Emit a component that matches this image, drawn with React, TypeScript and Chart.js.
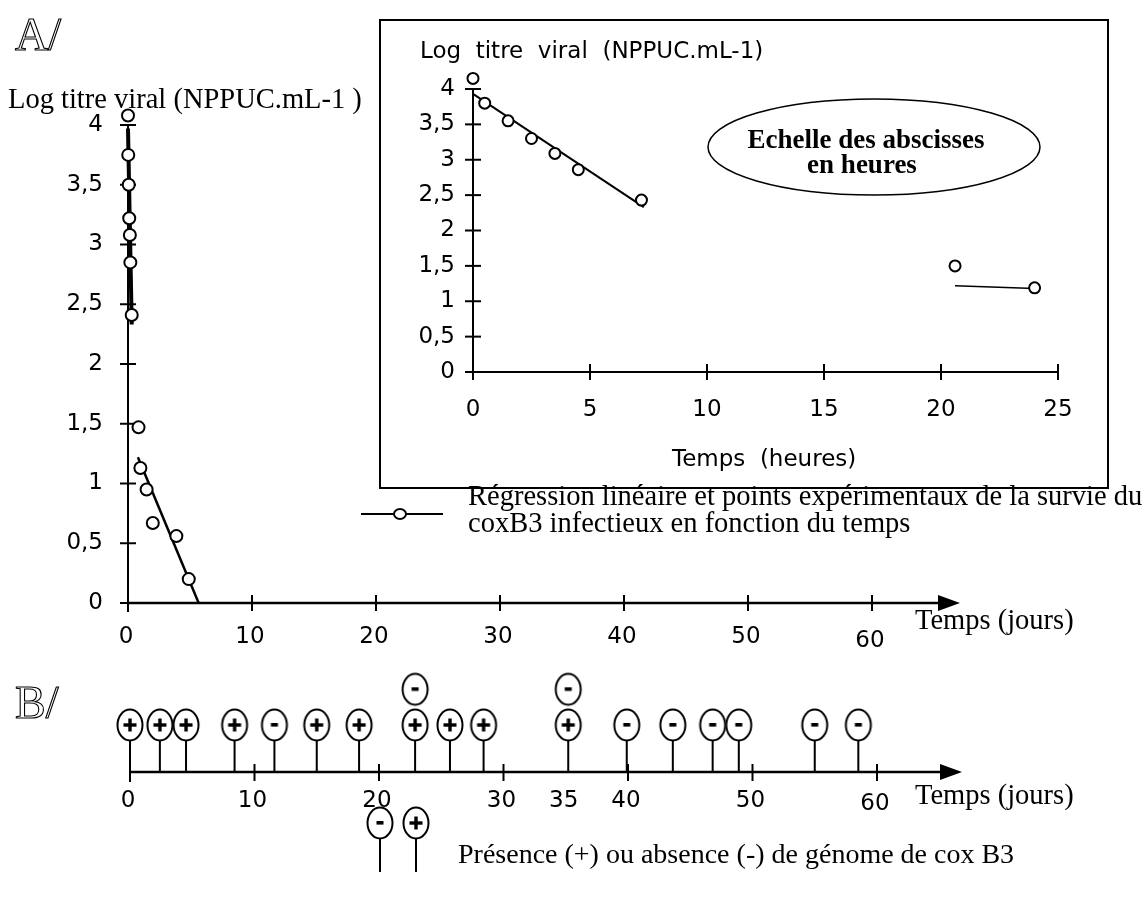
import React, { useEffect, useRef } from 'react';
import { Chart, registerables } from 'chart.js';
Chart.register(...registerables);

const W = 1147;
const H = 900;
const SANS = '"DejaVu Sans", Verdana, sans-serif';
const SERIF = '"Liberation Serif", "Times New Roman", serif';

// ---------- Panel A (days) ----------
const mainDays = [0, 0.02, 0.06, 0.1, 0.15, 0.19, 0.3, 0.85, 1.0, 1.5, 2.0, 3.9, 4.9];
const mainLog = [4.08, 3.75, 3.5, 3.22, 3.08, 2.85, 2.41, 1.47, 1.13, 0.95, 0.67, 0.56, 0.2];
const mainFitEarlyDays = [0, 0.3];
const mainFitEarlyLog = [3.97, 2.33];
const mainFitLateDays = [0.8, 5.7];
const mainFitLateLog = [1.22, 0];
const mainYTicks = [0, 0.5, 1, 1.5, 2, 2.5, 3, 3.5, 4];
const mainYTickLabels = ['0', '0,5', '1', '1,5', '2', '2,5', '3', '3,5', '4'];
const mainXTicks = [0, 10, 20, 30, 40, 50, 60];

// ---------- Inset (hours) ----------
const insetHours = [0, 0.5, 1.5, 2.5, 3.5, 4.5, 7.2, 20.6, 24.0];
const insetLog = [4.15, 3.8, 3.55, 3.3, 3.09, 2.86, 2.43, 1.5, 1.19];
const insetFitEarlyHours = [0, 7.3];
const insetFitEarlyLog = [3.93, 2.33];
const insetFitLateHours = [20.6, 24.0];
const insetFitLateLog = [1.22, 1.18];
const insetYTicks = [0, 0.5, 1, 1.5, 2, 2.5, 3, 3.5, 4];
const insetYTickLabels = ['0', '0,5', '1', '1,5', '2', '2,5', '3', '3,5', '4'];
const insetXTicks = [0, 5, 10, 15, 20, 25];

// ---------- Panel B (presence / absence of genome) ----------
const bDays = [0, 2.4, 4.5, 8.4, 11.6, 15, 18.4, 22.9, 25.7, 28.4, 35.2, 39.9, 43.6, 46.8, 48.9, 55, 58.5];
const bResult = ['+', '+', '+', '+', '-', '+', '+', '+', '+', '+', '+', '-', '-', '-', '-', '-', '-'];
const bRepeatDays = [22.9, 35.2];
const bRepeatResult = ['-', '-'];
const bXTicks = [10, 20, 30, 40, 50, 60];
const bXLabels = [0, 10, 20, 30, 35, 40, 50, 60];

function makeMarker(sign: string): HTMLCanvasElement {
  const c = document.createElement('canvas');
  c.width = 30;
  c.height = 36;
  const g = c.getContext('2d')!;
  g.lineWidth = 2;
  g.strokeStyle = '#000';
  g.fillStyle = '#fff';
  g.beginPath();
  g.ellipse(15, 18, 12.5, 15.5, 0, 0, Math.PI * 2);
  g.fill();
  g.stroke();
  g.fillStyle = '#000';
  if (sign === '+') {
    g.fillRect(8.5, 16.3, 13, 3.4);
    g.fillRect(13.3, 11.5, 3.4, 13);
  } else {
    g.fillRect(11.5, 16, 7, 3.6);
  }
  return c;
}

function txt(ctx: CanvasRenderingContext2D, s: string, x: number, y: number, font: string, align: CanvasTextAlign = 'left') {
  ctx.font = font;
  ctx.textAlign = align;
  ctx.textBaseline = 'middle';
  ctx.fillStyle = '#000';
  ctx.fillText(s, x, y);
}

function line(ctx: CanvasRenderingContext2D, x1: number, y1: number, x2: number, y2: number, w = 2) {
  ctx.beginPath();
  ctx.lineWidth = w;
  ctx.strokeStyle = '#000';
  ctx.moveTo(x1, y1);
  ctx.lineTo(x2, y2);
  ctx.stroke();
}

function arrow(ctx: CanvasRenderingContext2D, x: number, y: number) {
  ctx.beginPath();
  ctx.fillStyle = '#000';
  ctx.moveTo(x, y);
  ctx.lineTo(x - 22, y - 8);
  ctx.lineTo(x - 22, y + 8);
  ctx.closePath();
  ctx.fill();
}

const baseOptions = (pad: { left: number; right: number; top: number; bottom: number }, xr: [number, number], yr: [number, number]) => ({
  responsive: false,
  animation: false as const,
  events: [] as any[],
  layout: { padding: pad, autoPadding: false },
  scales: {
    x: { type: 'linear' as const, min: xr[0], max: xr[1], display: false },
    y: { type: 'linear' as const, min: yr[0], max: yr[1], display: false },
  },
  plugins: { legend: { display: false }, tooltip: { enabled: false }, title: { display: false } },
});

const pts = (xs: number[], ys: number[]) => xs.map((x, i) => ({ x, y: ys[i] }));

const TICK_FONT = `23px ${SANS}`;
const SERIF_FONT = `28.5px ${SERIF}`;

export default function App() {
  const mainRef = useRef<HTMLCanvasElement>(null);
  const insetRef = useRef<HTMLCanvasElement>(null);
  const bRef = useRef<HTMLCanvasElement>(null);

  useEffect(() => {
    const charts: Chart[] = [];

    // ---------------- Main chart A ----------------
    const MAIN_Y0 = 603;
    const MAIN_UNIT = 119.5;
    const MAIN_YMAX = 4.3;
    const mainDecor = {
      id: 'mainDecor',
      beforeDatasetsDraw(chart: any) {
        const ctx: CanvasRenderingContext2D = chart.ctx;
        const xs = chart.scales.x;
        const ys = chart.scales.y;
        const x0 = xs.getPixelForValue(0);
        const y0 = ys.getPixelForValue(0);
        ctx.save();
        line(ctx, x0, y0, x0, ys.getPixelForValue(4), 2);
        mainYTicks.forEach((v, i) => {
          const py = ys.getPixelForValue(v);
          line(ctx, x0 - 8, py, x0 + 8, py, 2);
          txt(ctx, mainYTickLabels[i], x0 - 25, py, TICK_FONT, 'right');
        });
        line(ctx, x0, y0, 945, y0, 2.5);
        arrow(ctx, 960, y0);
        mainXTicks.forEach((v) => {
          const px = xs.getPixelForValue(v);
          if (v === 0) line(ctx, px, y0, px, y0 + 9, 2);
          else line(ctx, px, y0 - 8, px, y0 + 8, 2);
          txt(ctx, String(v), px - 2, y0 + (v === 60 ? 38 : 34), TICK_FONT, 'center');
        });
        txt(ctx, 'Log titre viral (NPPUC.mL-1 )', 8, 101, SERIF_FONT);
        txt(ctx, 'Temps (jours)', 915, 622, SERIF_FONT);
        ctx.font = `46px ${SERIF}`;
        ctx.textAlign = 'left';
        ctx.textBaseline = 'alphabetic';
        ctx.lineWidth = 1.1;
        ctx.strokeStyle = '#000';
        ctx.strokeText('A/', 15, 50);
        // legend
        line(ctx, 361, 514, 443, 514, 2);
        ctx.beginPath();
        ctx.fillStyle = '#fff';
        ctx.lineWidth = 2;
        ctx.ellipse(400, 514, 6, 5, 0, 0, Math.PI * 2);
        ctx.fill();
        ctx.stroke();
        txt(ctx, 'Régression linéaire et points expérimentaux de la survie du', 468, 498, SERIF_FONT);
        txt(ctx, 'coxB3 infectieux en fonction du temps', 468, 525, SERIF_FONT);
        ctx.restore();
      },
    };

    charts.push(
      new Chart(mainRef.current!, {
        type: 'scatter',
        data: {
          datasets: [
            {
              data: pts(mainDays, mainLog),
              pointRadius: 6,
              pointBackgroundColor: '#fff',
              pointBorderColor: '#000',
              pointBorderWidth: 2,
              showLine: false,
              order: 0,
              clip: false as any,
            },
            {
              data: pts(mainFitEarlyDays, mainFitEarlyLog),
              showLine: true,
              borderColor: '#000',
              borderWidth: 4,
              pointRadius: 0,
              order: 1,
              clip: false as any,
            },
            {
              data: pts(mainFitLateDays, mainFitLateLog),
              showLine: true,
              borderColor: '#000',
              borderWidth: 2.5,
              pointRadius: 0,
              order: 1,
              clip: false as any,
            },
          ],
        },
        options: baseOptions(
          { left: 128, right: W - 872, top: MAIN_Y0 - MAIN_YMAX * MAIN_UNIT, bottom: H - MAIN_Y0 },
          [0, 60],
          [0, MAIN_YMAX]
        ) as any,
        plugins: [mainDecor],
      })
    );

    // ---------------- Inset ----------------
    const IN_Y0 = 372;
    const IN_UNIT = 70.75;
    const IN_YMAX = 4.3;
    const insetDecor = {
      id: 'insetDecor',
      beforeDatasetsDraw(chart: any) {
        const ctx: CanvasRenderingContext2D = chart.ctx;
        const xs = chart.scales.x;
        const ys = chart.scales.y;
        const x0 = xs.getPixelForValue(0);
        const y0 = ys.getPixelForValue(0);
        ctx.save();
        ctx.lineWidth = 2;
        ctx.strokeStyle = '#000';
        ctx.strokeRect(380, 20, 728, 468);
        line(ctx, x0, y0, x0, ys.getPixelForValue(4), 2);
        insetYTicks.forEach((v, i) => {
          const py = ys.getPixelForValue(v);
          line(ctx, x0 - 8, py, x0 + 8, py, 2);
          txt(ctx, insetYTickLabels[i], x0 - 18, py, TICK_FONT, 'right');
        });
        line(ctx, x0 - 8, y0, xs.getPixelForValue(25), y0, 2);
        insetXTicks.forEach((v) => {
          const px = xs.getPixelForValue(v);
          line(ctx, px, y0 - 8, px, y0 + 8, 2);
          txt(ctx, String(v), px, y0 + 38, TICK_FONT, 'center');
        });
        txt(ctx, 'Log  titre  viral  (NPPUC.mL-1)', 420, 52, TICK_FONT);
        txt(ctx, 'Temps  (heures)', 672, 460, TICK_FONT);
        ctx.beginPath();
        ctx.lineWidth = 1.5;
        ctx.ellipse(874, 147, 166, 48, 0, 0, Math.PI * 2);
        ctx.stroke();
        txt(ctx, 'Echelle des abscisses', 866, 141, `bold 27px ${SERIF}`, 'center');
        txt(ctx, 'en heures', 862, 166, `bold 27px ${SERIF}`, 'center');
        ctx.restore();
      },
    };

    charts.push(
      new Chart(insetRef.current!, {
        type: 'scatter',
        data: {
          datasets: [
            {
              data: pts(insetHours, insetLog),
              pointRadius: 5.5,
              pointBackgroundColor: '#fff',
              pointBorderColor: '#000',
              pointBorderWidth: 2,
              showLine: false,
              order: 0,
              clip: false as any,
            },
            {
              data: pts(insetFitEarlyHours, insetFitEarlyLog),
              showLine: true,
              borderColor: '#000',
              borderWidth: 2,
              pointRadius: 0,
              order: 1,
              clip: false as any,
            },
            {
              data: pts(insetFitLateHours, insetFitLateLog),
              showLine: true,
              borderColor: '#000',
              borderWidth: 1.6,
              pointRadius: 0,
              order: 1,
              clip: false as any,
            },
          ],
        },
        options: baseOptions(
          { left: 473, right: W - 1058, top: IN_Y0 - IN_YMAX * IN_UNIT, bottom: H - IN_Y0 },
          [0, 25],
          [0, IN_YMAX]
        ) as any,
        plugins: [insetDecor],
      })
    );

    // ---------------- Panel B ----------------
    const marks: Record<string, HTMLCanvasElement> = { '+': makeMarker('+'), '-': makeMarker('-') };
    const B_Y0 = 772;
    const B_UNIT = 47;
    const B_YMAX = 2.2;
    const LEVEL1 = 1;
    const LEVEL2 = 1.76;
    const STEM_TOP = 0.67;
    const stemData: any[] = [];
    bDays.forEach((d) => {
      stemData.push({ x: d, y: 0 }, { x: d, y: STEM_TOP }, { x: d, y: null });
    });

    const bDecor = {
      id: 'bDecor',
      beforeDatasetsDraw(chart: any) {
        const ctx: CanvasRenderingContext2D = chart.ctx;
        const xs = chart.scales.x;
        const ys = chart.scales.y;
        const x0 = xs.getPixelForValue(0);
        const y0 = ys.getPixelForValue(0);
        ctx.save();
        line(ctx, x0, y0, 945, y0, 2.5);
        arrow(ctx, 962, y0);
        line(ctx, x0, y0, x0, y0 + 10, 2);
        bXTicks.forEach((v) => {
          const px = xs.getPixelForValue(v);
          line(ctx, px, y0 - 8, px, y0 + 9, 2);
        });
        bXLabels.forEach((v) => {
          txt(ctx, String(v), xs.getPixelForValue(v) - 2, y0 + (v === 60 ? 32 : 29), TICK_FONT, 'center');
        });
        txt(ctx, 'Temps (jours)', 915, 797, SERIF_FONT);
        ctx.font = `46px ${SERIF}`;
        ctx.textAlign = 'left';
        ctx.textBaseline = 'alphabetic';
        ctx.lineWidth = 1.1;
        ctx.strokeStyle = '#000';
        ctx.strokeText('B/', 15, 718);
        // legend
        line(ctx, 380, 838, 380, 872, 2);
        line(ctx, 416, 838, 416, 872, 2);
        ctx.drawImage(marks['-'], 380 - 15, 823 - 18);
        ctx.drawImage(marks['+'], 416 - 15, 823 - 18);
        txt(ctx, 'Présence (+) ou absence (-) de génome de cox B3', 458, 856, `28px ${SERIF}`);
        ctx.restore();
      },
    };

    charts.push(
      new Chart(bRef.current!, {
        type: 'scatter',
        data: {
          datasets: [
            {
              data: bDays.map((x) => ({ x, y: LEVEL1 })),
              pointStyle: bResult.map((s) => marks[s]) as any,
              showLine: false,
              order: 0,
              clip: false as any,
            },
            {
              data: bRepeatDays.map((x) => ({ x, y: LEVEL2 })),
              pointStyle: bRepeatResult.map((s) => marks[s]) as any,
              showLine: false,
              order: 0,
              clip: false as any,
            },
            {
              data: stemData,
              showLine: true,
              spanGaps: false,
              borderColor: '#000',
              borderWidth: 2,
              pointRadius: 0,
              order: 2,
              clip: false as any,
            },
          ],
        },
        options: baseOptions(
          { left: 130, right: W - 877, top: B_Y0 - B_YMAX * B_UNIT, bottom: H - B_Y0 },
          [0, 60],
          [0, B_YMAX]
        ) as any,
        plugins: [bDecor],
      })
    );

    return () => charts.forEach((c) => c.destroy());
  }, []);

  const cs: React.CSSProperties = { position: 'absolute', left: 0, top: 0 };
  return (
    <div style={{ position: 'fixed', left: 0, top: 0, width: W, height: H, background: '#fff' }}>
      <canvas ref={mainRef} width={W} height={H} style={cs} />
      <canvas ref={insetRef} width={W} height={H} style={cs} />
      <canvas ref={bRef} width={W} height={H} style={cs} />
    </div>
  );
}
